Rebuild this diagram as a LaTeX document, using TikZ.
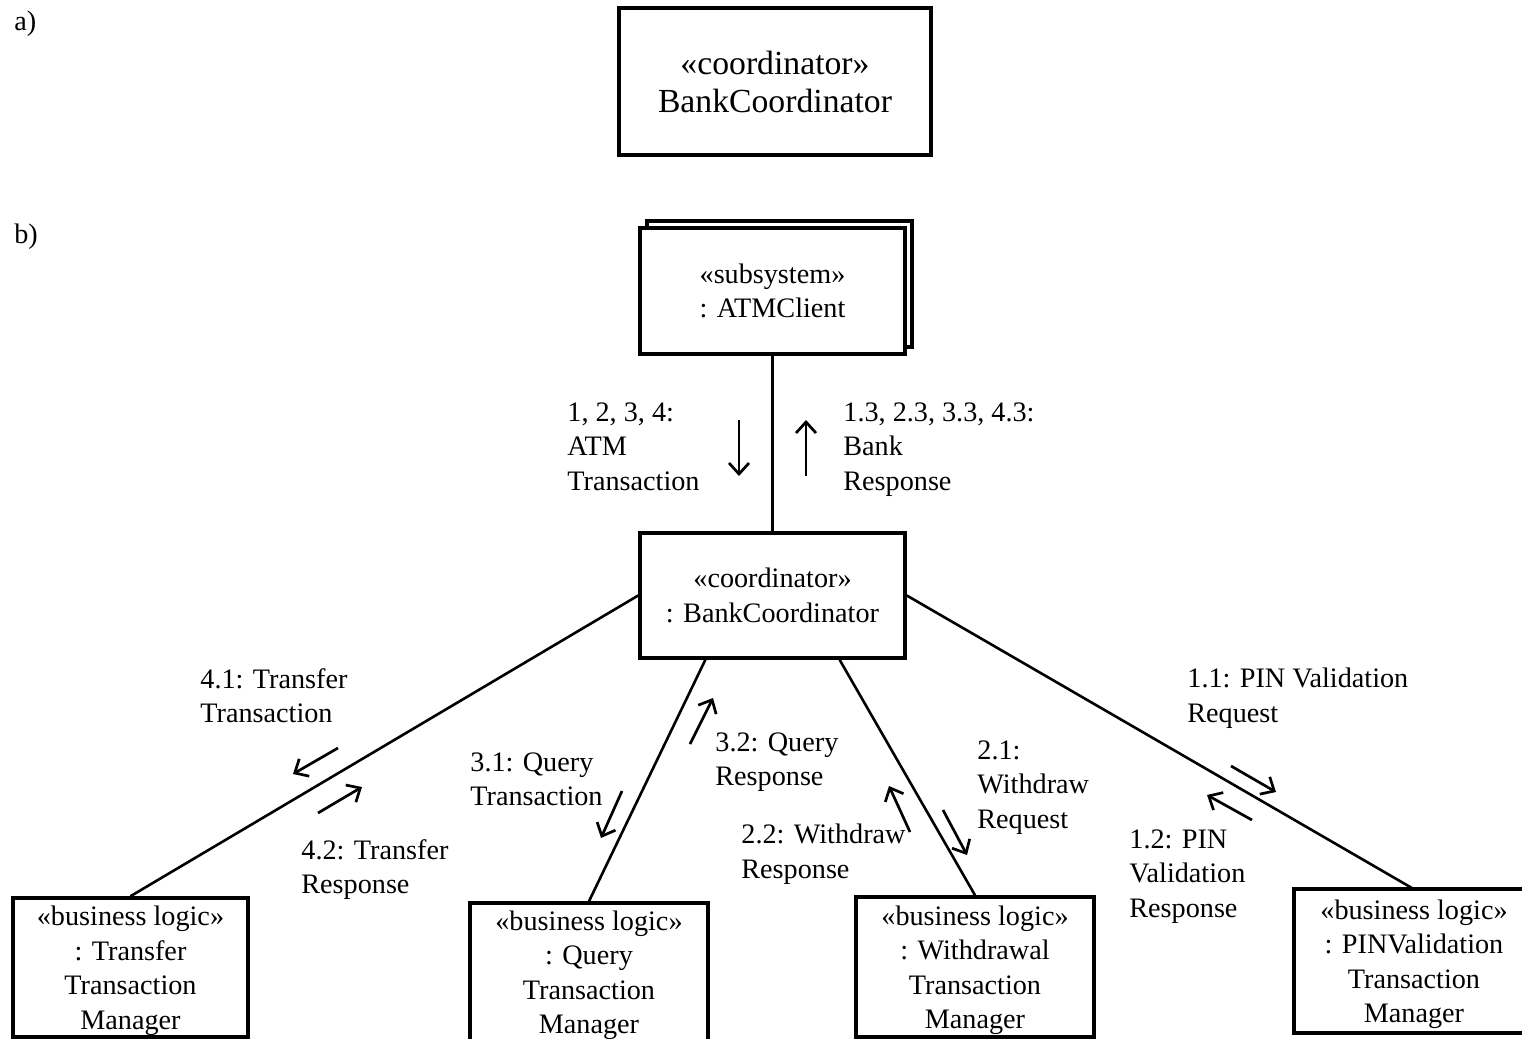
\documentclass[tikz,border=0pt]{standalone}
\usepackage{fontspec}
\setmainfont{Liberation Serif}
\usetikzlibrary{arrows.meta,calc}

\begin{document}
\begin{tikzpicture}[x=0.5pt,y=-0.5pt,
  txt/.style={font=\fontsize{14.1}{17.25}\selectfont},
  box/.style={draw, line width=1.8pt, fill=white, align=center, inner sep=0pt, txt},
  boxtext/.style={align=center, inner sep=0pt, txt},
  link/.style={line width=1.3pt},
  msg/.style={line width=1.35pt, -{Straight Barb[length=5.5pt,width=10pt,line width=1.35pt]}},
  lbl/.style={anchor=north west, inner sep=0pt, align=left, txt},
  tag/.style={anchor=base west, inner sep=0pt, txt},
]
\useasboundingbox (0,0) rectangle (1522,1039);
\clip (0,0) rectangle (1522,1039);
\fill[white] (0,0) rectangle (1522,1039);

% part labels
\node[tag] (la) at (14,30) {a)};
\node[tag] (lb) at (14,243) {b)};

% a) class box
\node[box, minimum width=156pt, minimum height=73.5pt,
      font=\fontsize{16.85}{19}\selectfont] (cls) at (775,81.5)
      {«coordinator»\\BankCoordinator};

% b) objects
\node[box, minimum width=132.5pt, minimum height=63pt] (atmback) at (779.5,284) {};
\node[box, minimum width=132.5pt, minimum height=63pt] (atm) at (772.5,291)
      {«subsystem»\\: ATMClient};
\node[box, minimum width=132.5pt, minimum height=62.5pt] (bc) at (772.5,595.5)
      {«coordinator»\\: BankCoordinator};

\node[box, minimum width=117.5pt, minimum height=69.5pt] (tr) at (130.5,967.5) {};
\node[box, minimum width=119pt, minimum height=69pt] (q) at (589,972) {};
\node[box, minimum width=119pt, minimum height=70pt] (w) at (975,967) {};
% the right-hand box runs past the right edge: only three sides are seen
\node[box, draw=none, minimum width=118pt, minimum height=70pt] (pin) at (1414,961) {};
\draw[line width=1.8pt] (pin.north east) -- (pin.north west)
      -- (pin.south west) -- (pin.south east);
\node[boxtext] (trt) at ($(tr.center)+(0,3)$)
      {«business logic»\\: Transfer\\Transaction\\Manager};
\node[boxtext] (qt) at ($(q.center)+(0,3)$)
      {«business logic»\\: Query\\Transaction\\Manager};
\node[boxtext] (wt) at ($(w.center)+(0,3)$)
      {«business logic»\\: Withdrawal\\Transaction\\Manager};
\node[boxtext] (pint) at ($(pin.center)+(0,3)$)
      {«business logic»\\: PINValidation\\Transaction\\Manager};

% links
\draw[link] (atm.south) -- (bc.north);
\draw[link] (bc.west) -- (tr.north);
\draw[link] ($(bc.south west)!0.25!(bc.south east)$) -- (q.north);
\draw[link] ($(bc.south west)!0.75!(bc.south east)$) -- (w.north);
\draw[link] (bc.east) -- (pin.north);

% message arrows
\coordinate (atmA) at (739,420); \coordinate (atmB) at (739,476);
\coordinate (bnkA) at (806,476); \coordinate (bnkB) at (806,420);
\coordinate (t1A) at (338,748);  \coordinate (t1B) at (293,774);
\coordinate (t2A) at (318,813);  \coordinate (t2B) at (362,787);
\coordinate (q1A) at (622,791);  \coordinate (q1B) at (601,838);
\coordinate (q2A) at (690,744);  \coordinate (q2B) at (713,698);
\coordinate (w2A) at (910,832);  \coordinate (w2B) at (889,786);
\coordinate (w1A) at (943,810);  \coordinate (w1B) at (967,855);
\coordinate (p1A) at (1231,766); \coordinate (p1B) at (1276,792);
\coordinate (p2A) at (1252,820); \coordinate (p2B) at (1207,795);
\draw[msg] (atmA) -- (atmB);
\draw[msg] (bnkA) -- (bnkB);
\draw[msg] (t1A) -- (t1B);
\draw[msg] (t2A) -- (t2B);
\draw[msg] (q1A) -- (q1B);
\draw[msg] (q2A) -- (q2B);
\draw[msg] (w2A) -- (w2B);
\draw[msg] (w1A) -- (w1B);
\draw[msg] (p1A) -- (p1B);
\draw[msg] (p2A) -- (p2B);

% message labels
\node[lbl] (m1) at (567,402)  {1, 2, 3, 4:\\ATM\\Transaction};
\node[lbl] (m2) at (843,402)  {1.3, 2.3, 3.3, 4.3:\\Bank\\Response};
\node[lbl] (m3) at (200,668)  {4.1: Transfer\\Transaction};
\node[lbl] (m4) at (301,839)  {4.2: Transfer\\Response};
\node[lbl] (m5) at (470,752)  {3.1: Query\\Transaction};
\node[lbl] (m6) at (715,732)  {3.2: Query\\Response};
\node[lbl] (m7) at (741,824)  {2.2: Withdraw\\Response};
\node[lbl] (m8) at (977,740)  {2.1:\\Withdraw\\Request};
\node[lbl] (m9) at (1187,668) {1.1: PIN Validation\\Request};
\node[lbl] (m10) at (1129,829) {1.2: PIN\\Validation\\Response};
\end{tikzpicture}
\end{document}
